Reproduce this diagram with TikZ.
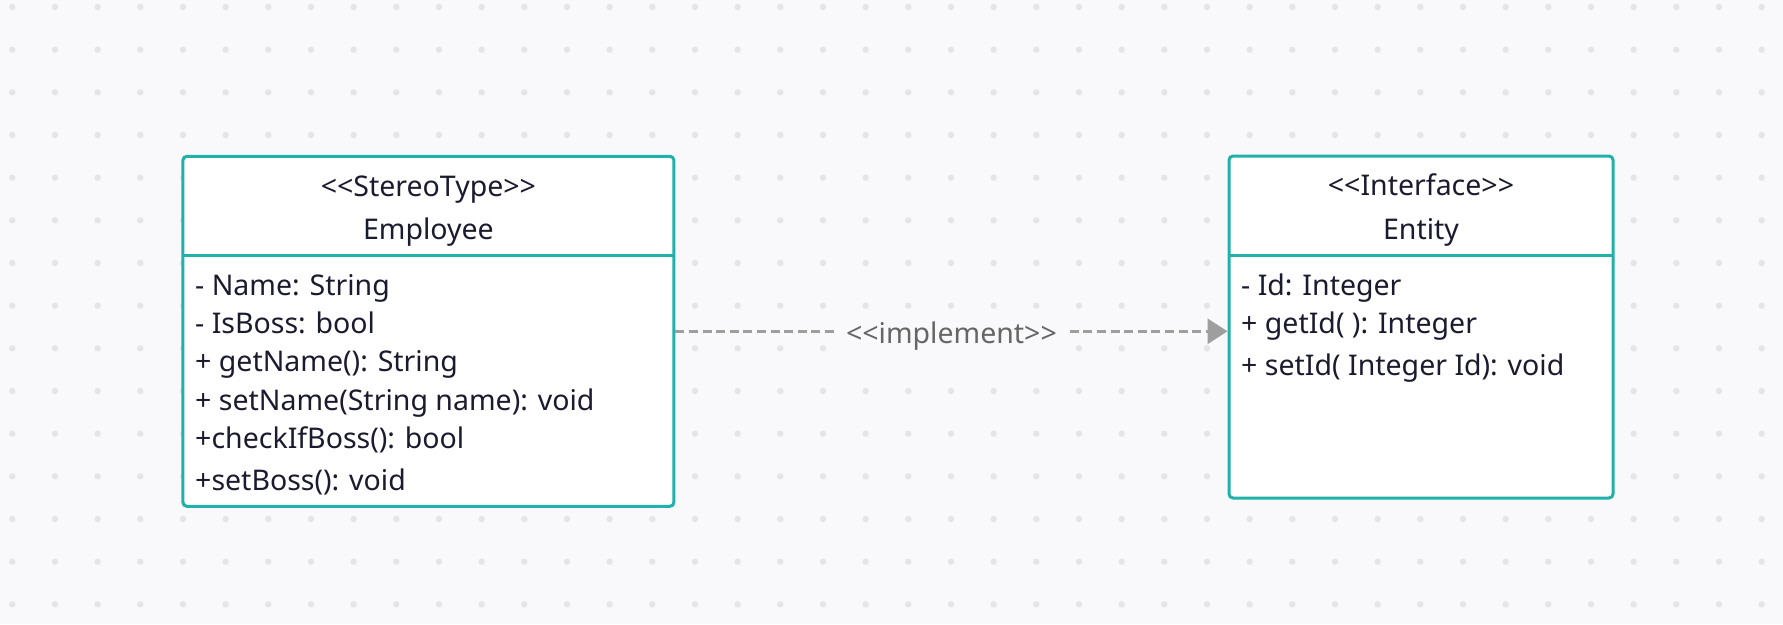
\documentclass[tikz,border=0pt]{standalone}
\usepackage{fontspec}
\setmainfont{Noto Sans}
\usetikzlibrary{arrows.meta}
\definecolor{bgc}{HTML}{F9F9FB}
\definecolor{dotc}{HTML}{E4E4E9}
\definecolor{tealc}{HTML}{22B0AA}
\definecolor{txtc}{HTML}{1B1B2F}
\definecolor{linec}{HTML}{9E9E9E}
\definecolor{lblc}{HTML}{666666}
\newcommand{\dlt}{<\kern0pt<}
\newcommand{\dgt}{>\kern0pt>}
\tikzset{
  umlbox/.style={draw=tealc, line width=3pt, fill=white, rounded corners=4pt, inner sep=0pt},
  divline/.style={draw=tealc, line width=3pt},
  title/.style={anchor=base, text=txtc, inner sep=0pt, font=\fontsize{28.5}{32}\selectfont},
  member/.style={anchor=base west, text=txtc, inner sep=0pt, font=\fontsize{28.5}{32}\selectfont},
  realize/.style={draw=linec, line width=3pt, dash pattern=on 9pt off 4.6pt, -{Triangle[length=20pt,width=25pt]}},
  lbl/.style={fill=bgc, text=lblc, inner xsep=11pt, inner ysep=4pt, font=\fontsize{28.5}{32}\selectfont},
  griddot/.style={fill=dotc, draw=none}
}
\begin{document}
\begin{tikzpicture}[x=1pt,y=-1pt]
\fill[bgc] (0,0) rectangle (1783,624);
\useasboundingbox (0,0) rectangle (1783,624);
\foreach \i in {0,...,41}{
  \foreach \j in {0,...,14}{
    \fill[griddot] (12.3+42.667*\i, 7+42.667*\j) circle (3.2pt);
  }
}
% Employee
\node[umlbox, minimum width=491pt, minimum height=350pt] (emp) at (428.4,331.3) {};
\coordinate (empdl) at (182.7,255);
\coordinate (empdr) at (674,255);
\draw[divline] (empdl) -- (empdr);
\node[title] (empst) at (428.4,196.5) {\dlt StereoType\dgt};
\node[title] (empnm) at (428.4,239) {Employee};
\node[member] (e1) at (195,295) {- Name: String};
\node[member] (e2) at (195,333.3) {- IsBoss: bool};
\node[member] (e3) at (195,371.7) {+ getName(): String};
\node[member] (e4) at (195,410) {+ setName(String name): void};
\node[member] (e5) at (195,448.3) {+checkIfBoss(): bool};
\node[member] (e6) at (195,490) {+setBoss(): void};
% Entity
\node[umlbox, minimum width=384pt, minimum height=342pt] (ent) at (1421,327) {};
\coordinate (entdl) at (1229,255);
\coordinate (entdr) at (1613,255);
\draw[divline] (entdl) -- (entdr);
\node[title] (entst) at (1421,195) {\dlt Interface\dgt};
\node[title] (entnm) at (1421,239) {Entity};
\node[member] (n1) at (1241,295) {- Id: Integer};
\node[member] (n2) at (1241,333) {+ getId( ): Integer};
\node[member] (n3) at (1241,375) {+ setId( Integer Id): void};
% connector
\draw[realize] (emp.east) -- (ent.west |- emp.east) node[midway, anchor=base, yshift=-12pt, lbl, solid] (impl) {\dlt implement\dgt};
\end{tikzpicture}
\end{document}
